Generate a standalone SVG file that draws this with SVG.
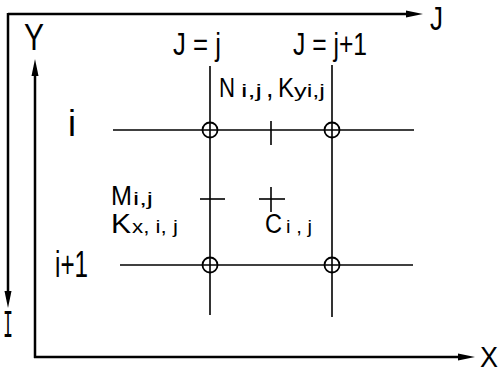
<svg xmlns="http://www.w3.org/2000/svg" width="502" height="375" viewBox="0 0 502 375">
<style>
.ax{stroke:#000;stroke-width:2.5;fill:none}
.gl{stroke:#000;stroke-width:1.6;fill:none}
.nd{stroke:#000;stroke-width:1.8;fill:none}
.ah{fill:#000}
text{font-family:"Liberation Sans",Arial,sans-serif;fill:#000}
.big{font-size:36px}
.mid{font-size:32px}
.lab{font-size:27px}
.sub{font-size:18px}
</style>
<rect width="502" height="375" fill="#fff"/>
<g id="connectors">
  <line class="ax" x1="8" y1="14" x2="412" y2="14"/>
  <polygon class="ah" points="423,14 406,10.5 406,17.5"/>
  <line class="ax" x1="8" y1="13" x2="8" y2="296"/>
  <polygon class="ah" points="8,308 4.5,291 11.5,291"/>
  <line class="ax" x1="35" y1="358" x2="35" y2="70"/>
  <polygon class="ah" points="35,59 31.5,76 38.5,76"/>
  <line class="ax" x1="34" y1="357" x2="464" y2="357"/>
  <polygon class="ah" points="475,357 458,353.5 458,360.5"/>
  <line class="gl" x1="113" y1="130" x2="414" y2="130"/>
  <line class="gl" x1="120" y1="265" x2="413" y2="265"/>
  <line class="gl" x1="210" y1="66" x2="210" y2="315"/>
  <line class="gl" x1="332" y1="65" x2="332" y2="317"/>
  <line class="gl" x1="271" y1="121" x2="271" y2="145"/>
  <line class="gl" x1="200" y1="199" x2="225" y2="199"/>
  <line class="gl" x1="259" y1="199" x2="285" y2="199"/>
  <line class="gl" x1="271" y1="187" x2="271" y2="212"/>
</g>
<g id="node-ij"><circle class="nd" cx="210" cy="130" r="7.5"/></g>
<g id="node-ij1"><circle class="nd" cx="332" cy="130" r="7.5"/></g>
<g id="node-i1j"><circle class="nd" cx="210" cy="265" r="7.5"/></g>
<g id="node-i1j1"><circle class="nd" cx="332" cy="265" r="7.5"/></g>
<g id="labels">
  <text class="big" x="24" y="50" textLength="20" lengthAdjust="spacingAndGlyphs">Y</text>
  <text x="430" y="30" style="font-size:34px" textLength="13" lengthAdjust="spacingAndGlyphs">J</text>
  <text x="3" y="337" style="font-family:'Liberation Mono',monospace;font-size:38px" textLength="10" lengthAdjust="spacingAndGlyphs">I</text>
  <text x="480" y="367" style="font-size:30px" textLength="18" lengthAdjust="spacingAndGlyphs">X</text>
  <text class="mid" x="173" y="55" textLength="48" lengthAdjust="spacingAndGlyphs">J = j</text>
  <text class="mid" x="293" y="55" textLength="74" lengthAdjust="spacingAndGlyphs">J = j+1</text>
  <text class="big" x="68" y="136" textLength="8" lengthAdjust="spacingAndGlyphs">i</text>
  <text class="big" x="55" y="277" textLength="33" lengthAdjust="spacingAndGlyphs">i+1</text>
  <text class="lab" x="219" y="97"><tspan textLength="16" lengthAdjust="spacingAndGlyphs">N</tspan><tspan class="sub" x="241" textLength="21" lengthAdjust="spacingAndGlyphs">i,j</tspan><tspan x="266">,</tspan><tspan x="278" textLength="16" lengthAdjust="spacingAndGlyphs">K</tspan><tspan class="sub" x="294" textLength="31" lengthAdjust="spacingAndGlyphs">yi,j</tspan></text>
  <text class="lab" x="111" y="205"><tspan textLength="21" lengthAdjust="spacingAndGlyphs">M</tspan><tspan class="sub" x="133" textLength="20" lengthAdjust="spacingAndGlyphs">i,j</tspan></text>
  <text class="lab" x="111" y="233"><tspan textLength="20" lengthAdjust="spacingAndGlyphs">K</tspan><tspan class="sub" x="132" textLength="46" lengthAdjust="spacingAndGlyphs">x, i, j</tspan></text>
  <text class="lab" x="265" y="233"><tspan textLength="17" lengthAdjust="spacingAndGlyphs">C</tspan><tspan class="sub" x="286" textLength="26" lengthAdjust="spacingAndGlyphs">i , j</tspan></text>
</g>
</svg>
